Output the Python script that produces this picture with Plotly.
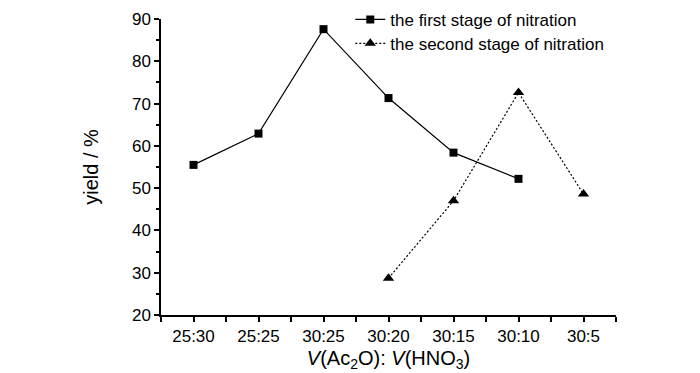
import plotly.graph_objects as go

categories = ["25:30", "25:25", "30:25", "30:20", "30:15", "30:10", "30:5"]
first_stage = [55.5, 62.9, 87.6, 71.3, 58.4, 52.2, None]
second_stage = [None, None, None, 28.7, 47.0, 72.6, 48.6]
yticks = [20, 30, 40, 50, 60, 70, 80, 90]

xpos = list(range(len(categories)))
FONT = "Liberation Sans Narrow, Arial Narrow, Liberation Sans, Arial, sans-serif"
FS = 17

fig = go.Figure()
fig.add_trace(go.Scatter(
    x=xpos, y=first_stage, mode="lines+markers",
    name="the first stage of nitration", legend="legend",
    line=dict(color="black", width=1.2),
    marker=dict(symbol="square", size=8, color="black"),
))
fig.add_trace(go.Scatter(
    x=xpos, y=second_stage, mode="lines+markers",
    name="the second stage of nitration", legend="legend2",
    line=dict(color="black", width=1.2, dash="2px,2px"),
    marker=dict(symbol="triangle-up", size=10, color="black"),
))

leg_common = dict(xanchor="left", yanchor="top", bgcolor="rgba(0,0,0,0)",
                  font=dict(size=FS), itemwidth=30)

# page body has an 8px margin: compensate so the plot area lands where the reference has it
fig.update_layout(
    width=700, height=373,
    margin=dict(l=153, r=92, t=11, b=66, autoexpand=False),
    paper_bgcolor="white", plot_bgcolor="white",
    font=dict(family=FONT, size=FS, color="black"),
    showlegend=True,
    legend=dict(x=0.416, y=1.058, **leg_common),
    legend2=dict(x=0.416, y=0.977, **leg_common),
)
fig.update_xaxes(
    range=[-0.5, 6.5], tickvals=xpos, ticktext=categories,
    showline=True, linecolor="black", linewidth=1.5,
    ticks="outside", ticklen=5, tickwidth=1.5, tickcolor="black",
    minor=dict(tick0=-0.5, dtick=1, ticks="outside", ticklen=5, tickwidth=1.5, tickcolor="black"),
    showgrid=False, zeroline=False, automargin=False,
    title=dict(text="<i>V</i>(Ac<sub>2</sub>O): <i>V</i>(HNO<sub>3</sub>)", standoff=6),
)
fig.update_yaxes(
    range=[20, 90], tickvals=yticks,
    showline=True, linecolor="black", linewidth=1.5,
    ticks="outside", ticklen=5, tickwidth=1.5, tickcolor="black",
    minor=dict(dtick=5, ticks="outside", ticklen=3, tickwidth=1.5, tickcolor="black"),
    showgrid=False, zeroline=False, automargin=False,
    title=dict(text="yield / %", standoff=28),
)

fig.write_html("out.html")
